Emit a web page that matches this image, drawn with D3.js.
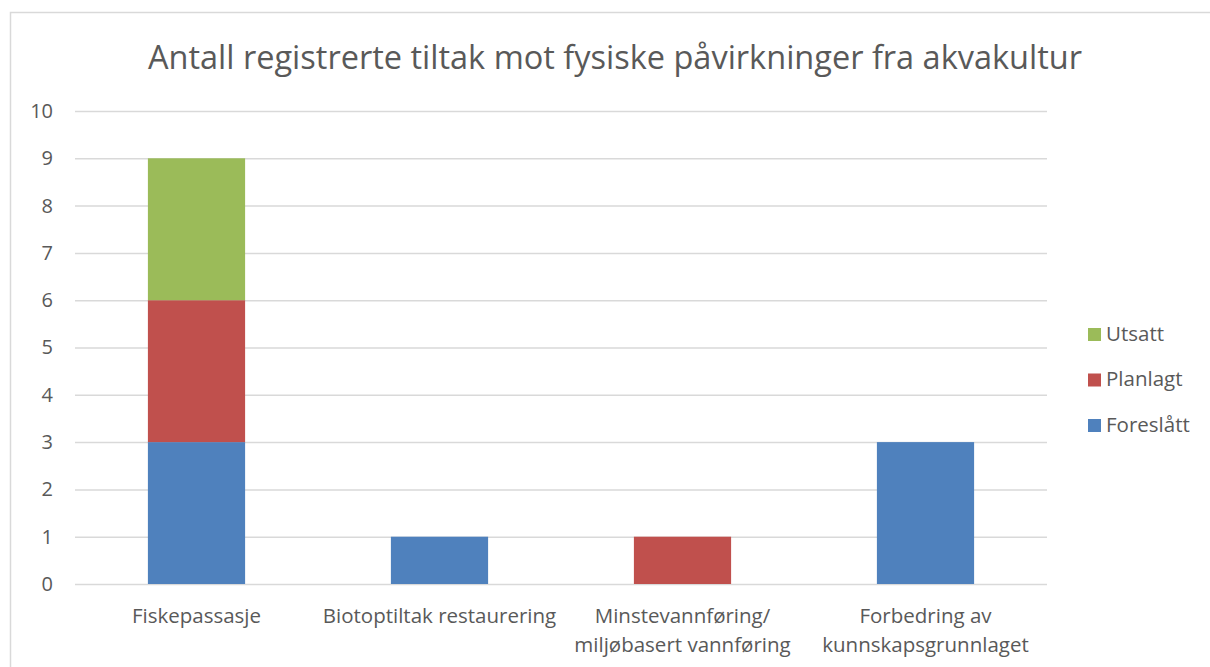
<!DOCTYPE html>
<html>
<head>
<meta charset="utf-8">
<script src="https://cdn.jsdelivr.net/npm/d3@7"></script>
<style>
  body { margin: 0; background: #fff; }
  svg text { font-family: "Open Sans", "Liberation Sans", sans-serif; fill: #595959; }
</style>
</head>
<body>
<svg id="chart" width="1210" height="667"></svg>
<script>
// data
var categories = [
  ["Fiskepassasje"],
  ["Biotoptiltak restaurering"],
  ["Minstevannføring/", "miljøbasert vannføring"],
  ["Forbedring av", "kunnskapsgrunnlaget"]
];
var seriesNames = ["Foreslått", "Planlagt", "Utsatt"];
var foreslatt = [3, 1, 0, 3];
var planlagt  = [3, 0, 1, 0];
var utsatt    = [3, 0, 0, 0];
var yTicks = [0, 1, 2, 3, 4, 5, 6, 7, 8, 9, 10];
var titleText = "Antall registrerte tiltak mot fysiske påvirkninger fra akvakultur";

var colors = d3.scaleOrdinal().domain(seriesNames).range(["#4f81bd", "#c0504d", "#9bbb59"]);

var margin = {left: 75, right: 1047, top: 111, bottom: 584};
var svg = d3.select("#chart");

// outer border
svg.append("rect")
  .attr("x", 10.5).attr("y", 12.5)
  .attr("width", 1210).attr("height", 700)
  .attr("fill", "none").attr("stroke", "#d9d9d9").attr("stroke-width", 1.5);

// title
svg.append("text")
  .attr("x", 615).attr("y", 69)
  .attr("text-anchor", "middle")
  .style("font-size", "32.5px")
  .text(titleText);

var idx = d3.range(categories.length);
var x = d3.scaleBand().domain(idx).range([margin.left, margin.right]).paddingInner(0).paddingOuter(0);
var y = d3.scaleLinear().domain([0, 10]).range([margin.bottom, margin.top]);

// gridlines
svg.append("g")
  .selectAll("line")
  .data(yTicks)
  .enter().append("line")
    .attr("x1", margin.left).attr("x2", margin.right)
    .attr("y1", d => y(d) + 0.5).attr("y2", d => y(d) + 0.5)
    .attr("stroke", "#d9d9d9").attr("stroke-width", 1.5);

// y axis labels
var yAxis = d3.axisLeft(y).tickValues(yTicks).tickSize(0).tickPadding(22);
var yg = svg.append("g").attr("transform", "translate(" + margin.left + ",0)").call(yAxis);
yg.select(".domain").remove();
yg.selectAll("text").style("font-size", "20px").attr("fill", "#595959");

// stacked bars
var rows = idx.map(i => ({i: i, "Foreslått": foreslatt[i], "Planlagt": planlagt[i], "Utsatt": utsatt[i]}));
var stack = d3.stack().keys(seriesNames)(rows);
var barW = x.bandwidth() * 0.4;

svg.append("g")
  .selectAll("g")
  .data(stack)
  .enter().append("g")
    .attr("fill", d => colors(d.key))
  .selectAll("rect")
  .data(d => d.filter(s => s[1] - s[0] > 0))
  .enter().append("rect")
    .attr("x", d => x(d.data.i) + (x.bandwidth() - barW) / 2)
    .attr("y", d => y(d[1]))
    .attr("width", barW)
    .attr("height", d => y(d[0]) - y(d[1]));

// x labels
var xl = svg.append("g")
  .selectAll("text")
  .data(idx)
  .enter().append("text")
    .attr("text-anchor", "middle")
    .attr("x", d => x(d) + x.bandwidth() / 2)
    .attr("y", 623)
    .style("font-size", "20.5px");
xl.selectAll("tspan")
  .data(d => categories[d])
  .enter().append("tspan")
    .attr("x", function(){ return this.parentNode.getAttribute("x"); })
    .attr("dy", (d, i) => i ? 29 : 0)
    .text(d => d);

// legend
var legendOrder = seriesNames.slice().reverse();
var legend = svg.append("g")
  .selectAll("g")
  .data(legendOrder)
  .enter().append("g")
    .attr("transform", (d, i) => "translate(1088," + (328 + i * 45.5) + ")");
legend.append("rect")
  .attr("width", 13).attr("height", 13)
  .attr("fill", d => colors(d));
legend.append("text")
  .attr("x", 18).attr("y", 12.5)
  .style("font-size", "20.5px")
  .text(d => d);
</script>
</body>
</html>
